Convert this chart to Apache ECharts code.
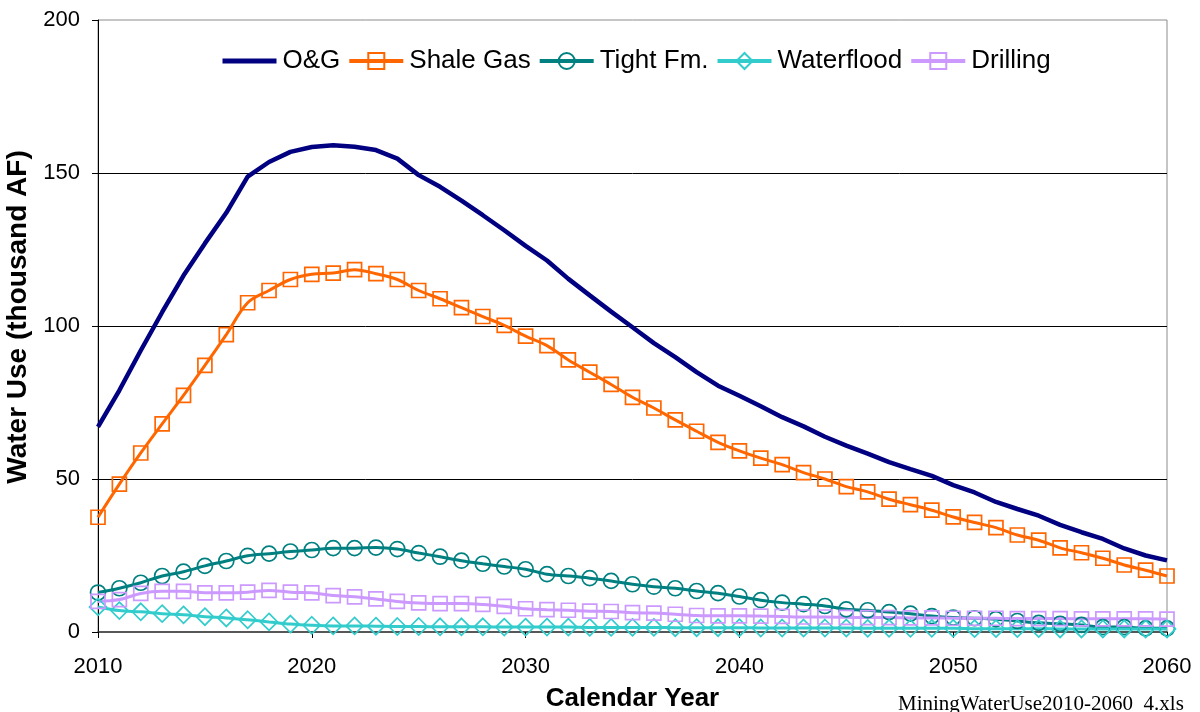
<!DOCTYPE html>
<html>
<head>
<meta charset="utf-8">
<script src="https://cdn.jsdelivr.net/npm/echarts@6/dist/echarts.min.js"></script>
<style>html,body{margin:0;padding:0;background:#fff}#c{width:1200px;height:712px}</style>
</head>
<body>
<div id="c"></div>
<script>
const years = [];
for (let y = 2010; y <= 2060; y++) years.push(y);

const xTicks = [2010, 2020, 2030, 2040, 2050, 2060];
const yTicks = [0, 50, 100, 150, 200];

const seriesNames = ['O&G', 'Shale Gas', 'Tight Fm.', 'Waterflood', 'Drilling'];

const oilGas = [67, 79, 92, 104.5, 116.5, 127, 137, 148.8, 153.6, 156.9,
  158.5, 159.1, 158.6, 157.5, 154.7, 149.3, 145.5, 141, 136.2, 131.3,
  126.2, 121.4, 115.4, 110, 104.7, 99.6, 94.4, 89.8, 84.9, 80.5,
  77.2, 73.8, 70.2, 67.2, 63.8, 60.9, 58.3, 55.5, 53.2, 51,
  48, 45.6, 42.5, 40.2, 38, 35, 32.6, 30.4, 27.3, 25, 23.4];

const shaleGas = [37.5, 48.3, 58.5, 68, 77.3, 87.1, 97.2, 107.6, 111.6, 115.2,
  116.9, 117.3, 118.4, 117.1, 115.2, 111.6, 108.9, 106, 103.1, 100.2,
  96.7, 93.6, 88.9, 84.9, 80.9, 76.7, 73.2, 69.3, 65.6, 62,
  59.2, 56.8, 54.7, 52.1, 50, 47.5, 45.8, 43.4, 41.6, 39.8,
  37.6, 35.8, 34.1, 31.7, 30, 27.5, 25.9, 24.1, 21.9, 20.2, 18.3];

const tightFm = [12.9, 14.3, 16.1, 18.3, 19.7, 21.6, 23.2, 24.9, 25.6, 26.3,
  26.8, 27.4, 27.4, 27.6, 27.1, 25.8, 24.6, 23.3, 22.3, 21.4,
  20.5, 18.9, 18.3, 17.6, 16.7, 15.6, 14.8, 14.3, 13.4, 12.7,
  11.6, 10.4, 9.6, 9.1, 8.5, 7.4, 7.1, 6.5, 6.0, 5.2,
  4.7, 4.5, 4.2, 3.6, 3.0, 2.7, 2.3, 1.6, 1.6, 1.2, 1.2];

const waterflood = [8.2, 7.0, 6.6, 6.0, 5.6, 5.0, 4.6, 4.0, 3.3, 2.6,
  2.2, 2.0, 2.0, 1.9, 1.8, 1.8, 1.7, 1.7, 1.7, 1.6,
  1.6, 1.6, 1.6, 1.5, 1.5, 1.5, 1.5, 1.4, 1.4, 1.4,
  1.4, 1.3, 1.3, 1.3, 1.3, 1.3, 1.2, 1.2, 1.2, 1.2,
  1.2, 1.1, 1.1, 1.1, 1.1, 1.0, 1.0, 1.0, 1.0, 1.0, 1.0];

const drilling = [10, 10.6, 12.6, 13.3, 13.3, 12.8, 12.8, 13, 13.6, 13,
  12.8, 11.9, 11.5, 10.8, 10, 9.5, 9.3, 9.3, 9, 8.4,
  7.6, 7.3, 7.1, 6.8, 6.7, 6.3, 6.2, 5.8, 5.4, 5.3,
  5.3, 5.2, 5.1, 4.9, 4.9, 4.8, 4.7, 4.7, 4.6, 4.6,
  4.5, 4.5, 4.5, 4.4, 4.4, 4.4, 4.3, 4.3, 4.3, 4.3, 4.2];

const footer = 'MiningWaterUse2010-2060_4.xls';

function pairs(arr) { return years.map((y, i) => [y, arr[i]]); }

const FONT = '"Liberation Sans", Arial, sans-serif';
const colors = ['#000080', '#FF6600', '#008080', '#33CCCC', '#CC99FF'];

function markedSeries(idx, data, symbol, size) {
  const color = colors[idx];
  return {
    name: seriesNames[idx], type: 'line', data: pairs(data), smooth: 0.35,
    color: color,
    symbol: symbol, symbolSize: size, showAllSymbol: true,
    lineStyle: { color: color, width: 3 },
    itemStyle: { color: 'rgba(255,255,255,0)', borderColor: color, borderWidth: 1.7 },
    emphasis: { disabled: true }, animation: false
  };
}

const chart = echarts.init(document.getElementById('c'), null, { renderer: 'canvas' });
chart.setOption({
  animation: false,
  backgroundColor: '#fff',
  grid: { left: 98, right: 33, top: 20, bottom: 80, outerBoundsMode: 'none', containLabel: false,
    show: true, borderColor: '#8c8c8c', borderWidth: 1, backgroundColor: 'transparent' },
  legend: {
    left: 215, top: 43, itemWidth: 54, itemHeight: 20, itemGap: 7,
    textStyle: { fontFamily: FONT, fontSize: 26, color: '#000', padding: [0, 0, 0, 1] },
    data: [
      { name: seriesNames[0], itemStyle: { opacity: 0 }, lineStyle: { width: 5, color: colors[0] } },
      { name: seriesNames[1], lineStyle: { width: 4, color: colors[1] } },
      { name: seriesNames[2], lineStyle: { width: 4, color: colors[2] } },
      { name: seriesNames[3], lineStyle: { width: 4, color: colors[3] } },
      { name: seriesNames[4], lineStyle: { width: 4, color: colors[4] } }
    ]
  },
  xAxis: {
    type: 'value', min: xTicks[0], max: xTicks[xTicks.length - 1], interval: 10,
    axisLine: { lineStyle: { color: '#333', width: 1.5 } },
    axisTick: { show: true, length: 6, lineStyle: { color: '#000' } },
    axisLabel: { fontFamily: FONT, fontSize: 22, color: '#000', margin: 24, formatter: v => String(v) },
    splitLine: { show: false },
    name: 'Calendar Year', nameLocation: 'middle', nameGap: 54,
    nameTextStyle: { fontFamily: FONT, fontSize: 26, fontWeight: 'bold', color: '#000' }
  },
  yAxis: {
    type: 'value', min: yTicks[0], max: yTicks[yTicks.length - 1], interval: 50,
    axisLine: { show: true, lineStyle: { color: '#000', width: 1 } },
    axisTick: { show: true, length: 6, lineStyle: { color: '#000' } },
    axisLabel: { fontFamily: FONT, fontSize: 22, color: '#000', margin: 18 },
    splitLine: { show: true, showMinLine: false, showMaxLine: false, lineStyle: { color: '#000', width: 1 } },
    name: 'Water Use (thousand AF)', nameLocation: 'middle', nameGap: 62, nameRotate: 90,
    nameTextStyle: { fontFamily: FONT, fontSize: 28, fontWeight: 'bold', color: '#000', padding: [0, 0, 0, 18] }
  },
  graphic: [{
    type: 'text', left: 898, top: 694,
    style: { text: footer, font: '21px "Liberation Serif", "Times New Roman", serif', fill: '#000' }
  }],
  series: [
    {
      name: seriesNames[0], type: 'line', data: pairs(oilGas), smooth: false,
      color: colors[0], symbol: 'none',
      lineStyle: { color: colors[0], width: 4.5 },
      itemStyle: { color: colors[0] },
      emphasis: { disabled: true }, animation: false
    },
    markedSeries(1, shaleGas, 'rect', 14),
    markedSeries(2, tightFm, 'circle', 15),
    markedSeries(3, waterflood, 'diamond', 17),
    markedSeries(4, drilling, 'rect', 14)
  ]
});
</script>
</body>
</html>
